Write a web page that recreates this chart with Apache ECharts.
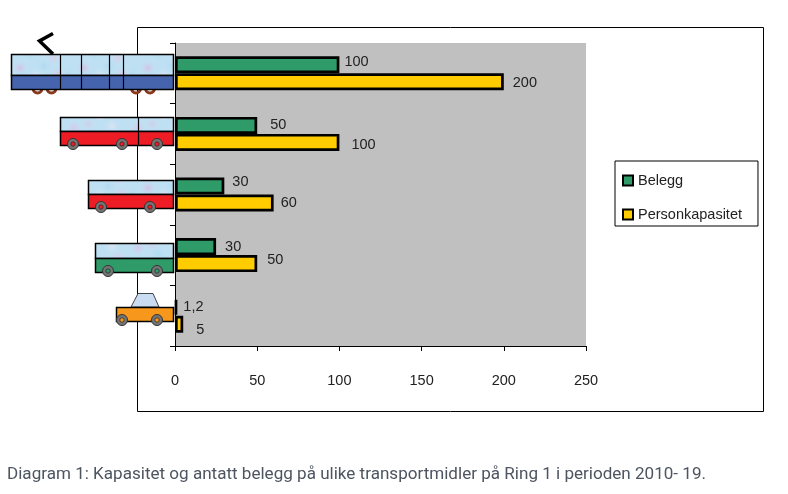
<!DOCTYPE html>
<html><head><meta charset="utf-8">
<style>html,body{margin:0;padding:0;background:#fff}#c{width:788px;height:494px}</style>
<script src="https://cdn.jsdelivr.net/npm/echarts@6/dist/echarts.min.js"></script>
</head><body><div id="c"></div>
<script>
// Data
const categories = ['Tog', 'Leddbuss', 'Buss', 'Minibuss', 'Bil'];
const seriesNames = ['Belegg', 'Personkapasitet'];
const belegg = [100, 50, 30, 25, 1.2];
const personkapasitet = [200, 100, 60, 50, 5];
const beleggLabels = ['100', '50', '30', '30', '1,2'];
const kapasitetLabels = ['200', '100', '60', '50', '5'];
const xTicks = [0, 50, 100, 150, 200, 250];
const caption = 'Diagram 1: Kapasitet og antatt belegg på ulike transportmidler på Ring 1 i perioden 2010- 19.';

// Label nudges
const beleggOffsets = [[5,-3],[13,0],[8,-4],[9,0],[6,0]];
const kapasitetOffsets = [[9,1],[12,3],[7,0],[10,-4],[13,6]];
const sans = '"Liberation Sans", Arial, sans-serif';

// Mottled window texture (decoration only)
function glassTexture(){
  const cv = document.createElement('canvas'); cv.width = 64; cv.height = 40;
  const g = cv.getContext('2d');
  g.fillStyle = '#bfe0f3'; g.fillRect(0,0,64,40);
  const blobs = [[10,8,'#d6c8e6'],[30,14,'#aedcf2'],[48,6,'#dbe4f3'],[20,28,'#d2c2e4'],[44,26,'#b2daf0'],[58,34,'#dbcde8'],[4,34,'#b6dcf0'],[36,36,'#e0e6f4'],[24,4,'#cfd0ea'],[54,18,'#d8cfe9']];
  blobs.forEach(b=>{ const r=g.createRadialGradient(b[0],b[1],0,b[0],b[1],9);
    r.addColorStop(0,b[2]); r.addColorStop(1,'rgba(191,224,243,0)');
    g.fillStyle=r; g.fillRect(b[0]-9,b[1]-9,18,18); });
  return cv;
}
const glass = {image: glassTexture(), repeat:'repeat'};
const Z = 20;
const box = (x,y,w,h,fill,lw=1.5)=>({type:'rect',z:Z,shape:{x,y,width:w,height:h},style:{fill,stroke:'#000',lineWidth:lw}});
const vline = (x,y1,y2)=>({type:'line',z:Z+1,shape:{x1:x,y1,x2:x,y2},style:{stroke:'#000',lineWidth:1.2}});
const wheel = (x,y,inner)=>[
  {type:'circle',z:Z+2,shape:{cx:x,cy:y,r:5.5},style:{fill:'#757575',stroke:'#333',lineWidth:1}},
  {type:'circle',z:Z+3,shape:{cx:x,cy:y,r:2.2},style:{fill:inner,stroke:'#222',lineWidth:0.7}}];
const bogie = (x)=>({type:'arc',z:Z-1,shape:{cx:x,cy:88.5,r:4.4,startAngle:0,endAngle:Math.PI,clockwise:true},style:{fill:'none',stroke:'#8c3a1e',lineWidth:3}});

function vehicle(x1,x2,y1,y2,y3,color,dividers,wheels,inner){
  const out = [box(x1,y1,x2-x1,y2-y1,glass), box(x1,y2,x2-x1,y3-y2,color)];
  dividers.forEach(d=>out.push(vline(d,y1,y3)));
  wheels.forEach(w=>out.push(...wheel(w,y3-1.5,inner)));
  return out;
}
const decor = [
  {type:'rect',z:1,shape:{x:137.5,y:27.5,width:626,height:384},style:{fill:'none',stroke:'#000',lineWidth:1}},
  {type:'polyline',z:Z,shape:{points:[[53,33.5],[39.5,41],[53,54]]},style:{fill:'none',stroke:'#000',lineWidth:3.5}},
  bogie(37.5),bogie(51.5),bogie(136),bogie(150),
  ...vehicle(11.5,173.5,54.5,75.5,89.5,'#4564ad',[60.5,81.5,109.5,123.5],[],''),
  ...vehicle(60.5,173.5,117.5,131.5,145.5,'#ee1c25',[138.5],[73,122,157],'#ee1c25'),
  ...vehicle(88.5,173.5,180.5,194.5,208.5,'#ee1c25',[],[101,150],'#ee1c25'),
  ...vehicle(95.5,173.5,243.5,258.5,272.5,'#2f9b69',[],[108,157],'#2f9b69'),
  {type:'polygon',z:Z,shape:{points:[[131,307],[138,293.5],[153,293.5],[159,307]]},style:{fill:'#c9dcf2',stroke:'#444',lineWidth:1}},
  box(116.5,307.5,57,14,'#f7981d'),
  ...wheel(122,320,'#f7981d'),...wheel(157,320,'#f7981d'),
  {type:'text',z:Z,x:7,y:466,style:{text:caption,fill:'#4d5560',fontFamily:'Roboto',fontSize:17.07,textVerticalAlign:'top'}}
];

function makeData(vals,labels,offs){
  return vals.map((v,i)=>({value:v,label:{formatter:labels[i],offset:offs[i]}}));
}
const barSeries = (name,color,vals,labels,offs)=>({
  name,type:'bar',barWidth:17,barGap:'0%',
  itemStyle:{color,borderColor:'#000',borderWidth:2.7},
  label:{show:true,position:'right',distance:0,color:'#222',fontFamily:sans,fontSize:14.5},
  data:makeData(vals,labels,offs)
});

const chart = echarts.init(document.getElementById('c'),null,{renderer:'canvas'});
chart.setOption({
  animation:false,
  backgroundColor:'#fff',
  textStyle:{fontFamily:sans},
  grid:{left:175,top:43,width:411,height:303,show:true,backgroundColor:'#c0c0c0',borderWidth:0},
  xAxis:{type:'value',min:xTicks[0],max:xTicks[xTicks.length-1],interval:xTicks[1]-xTicks[0],
    splitLine:{show:false},
    axisLine:{show:true,lineStyle:{color:'#000',width:1}},
    axisTick:{show:true,length:5,lineStyle:{color:'#000'}},
    axisLabel:{margin:27,color:'#222',fontFamily:sans,fontSize:14.5}},
  yAxis:{type:'category',inverse:true,data:categories,
    axisLine:{show:true,lineStyle:{color:'#000',width:1}},
    axisTick:{show:true,length:5,alignWithLabel:false,lineStyle:{color:'#000'}},
    axisLabel:{show:false}},
  legend:{orient:'vertical',left:615,top:161,
    data:seriesNames,backgroundColor:'#fff',borderColor:'#000',borderWidth:1,
    padding:[12,16,4,7],itemGap:19,itemWidth:10,itemHeight:10,icon:'rect',
    textStyle:{color:'#222',fontFamily:sans,fontSize:14.5},
    itemStyle:{borderColor:'#000',borderWidth:2}},
  graphic:decor,
  series:[
    barSeries(seriesNames[0],'#2f9b69',belegg,beleggLabels,beleggOffsets),
    barSeries(seriesNames[1],'#ffcc00',personkapasitet,kapasitetLabels,kapasitetOffsets)
  ]
});
</script></body></html>
